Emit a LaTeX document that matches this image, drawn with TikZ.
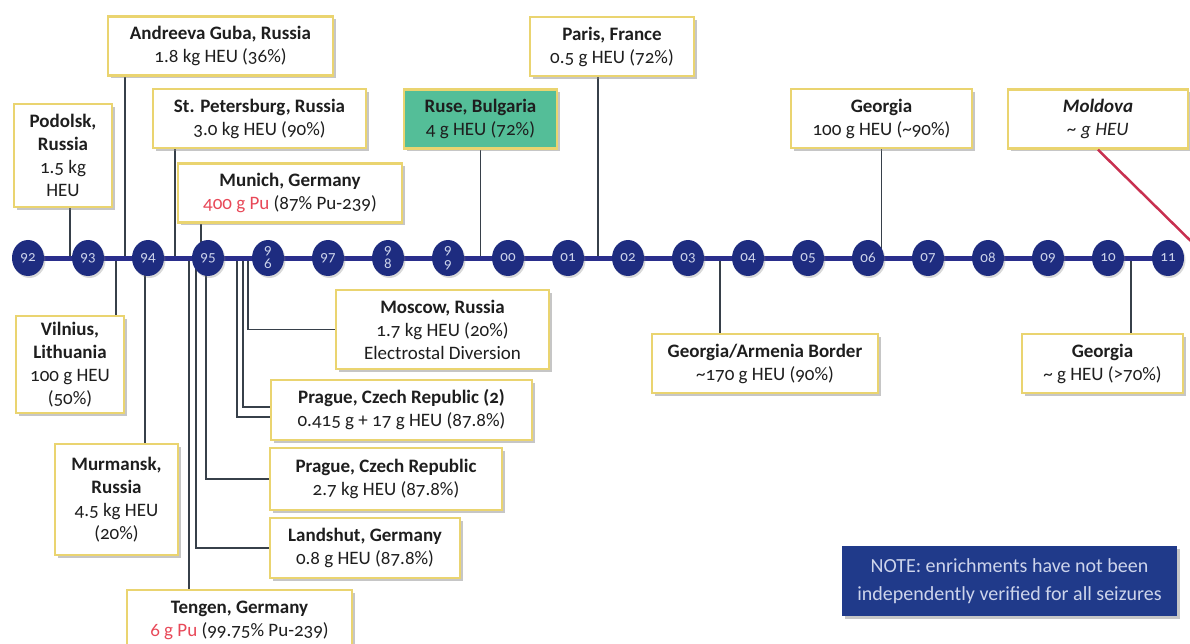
\documentclass[tikz,border=0pt]{standalone}
\usepackage{fontspec}
\setmainfont{Carlito}[Numbers=OldStyle]
\usetikzlibrary{shapes.geometric,shadows,backgrounds}
\definecolor{boxgold}{RGB}{234,212,112}
\definecolor{yearblue}{RGB}{30,44,128}
\definecolor{linenavy}{RGB}{42,46,140}
\definecolor{linkgray}{RGB}{55,64,74}
\definecolor{rusegreen}{RGB}{84,190,152}
\definecolor{pured}{RGB}{232,72,88}
\definecolor{moldred}{RGB}{200,48,80}
\definecolor{notefill}{RGB}{32,58,138}
\definecolor{notetext}{RGB}{205,212,235}
\definecolor{inktext}{RGB}{30,30,30}
\tikzset{
    x=1pt, y=-1pt, % one unit per reference pixel, y running down
    }

\begin{document}
\begin{tikzpicture}[
infobox/.style={draw=boxgold, line width=2.4pt, fill=white, text=inktext, align=center, inner sep=3pt, minimum height=59pt, font=\fontsize{19}{23}\selectfont, drop shadow={shadow xshift=3pt, shadow yshift=-3pt, opacity=0.45}},
notebox/.style={fill=notefill, text=notetext, align=center, minimum width=335pt, minimum height=70pt, font=\fontsize{20}{28}\selectfont, drop shadow={shadow xshift=3pt, shadow yshift=-3pt, opacity=0.45}},
yearnode/.style={ellipse, fill=yearblue, text=notetext, inner sep=0pt, minimum width=32pt, minimum height=36pt, align=center, font=\fontsize{15}{14}\selectfont, drop shadow={shadow xshift=1.5pt, shadow yshift=-2pt, opacity=0.3}},
timeline/.style={draw=linenavy, line width=5pt},
link/.style={draw=linkgray, line width=1.8pt},
moldline/.style={draw=moldred, line width=2.5pt},
]
\useasboundingbox (0,0) rectangle (1190,644);

% years
\foreach \yr/\lbl [count=\i from 0] in {92/92,93/93,94/94,95/95,96/{9\\6},97/97,98/{9\\8},99/{9\\9},00/00,01/01,02/02,03/03,04/04,05/05,06/06,07/07,08/08,09/09,10/10,11/11}
  \node[yearnode] (y\yr) at ({28+60*\i},258) {\lbl};

% seizures above the line
\node[infobox, minimum width=225pt] (andreeva) at (220.5,46) {\textbf{Andreeva Guba, Russia}\\1.8 kg HEU (36\%)};
\node[infobox, minimum width=98pt, minimum height=103pt] (podolsk) at (63,155.5) {\textbf{Podolsk,}\\\textbf{Russia}\\1.5 kg\\HEU};
\node[infobox, minimum width=213pt] (stpete) at (259.5,118.5) {\textbf{St. Petersburg, Russia}\\3.0 kg HEU (90\%)};
\node[infobox, minimum width=224pt] (munich) at (290,193) {\textbf{Munich, Germany}\\\textcolor{pured}{400 g Pu} (87\% Pu-239)};
\node[infobox, fill=rusegreen, minimum width=153pt] (ruse) at (480.5,119) {\textbf{Ruse, Bulgaria}\\4 g HEU (72\%)};
\node[infobox, minimum width=164pt] (paris) at (612,46.5) {\textbf{Paris, France}\\0.5 g HEU (72\%)};
\node[infobox, minimum width=181pt] (georgiaA) at (881.5,118.5) {\textbf{Georgia}\\100 g HEU (\textasciitilde90\%)};
\node[infobox, minimum width=180pt] (moldova) at (1098,119) {\textbf{\textit{Moldova}}\\\textit{\textasciitilde{} g HEU}};

% seizures below the line
\node[infobox, minimum width=108pt, minimum height=97pt] (vilnius) at (70,364.5) {\textbf{Vilnius,}\\\textbf{Lithuania}\\100 g HEU\\(50\%)};
\node[infobox, minimum width=123pt, minimum height=111pt] (murmansk) at (116.5,499.5) {\textbf{Murmansk,}\\\textbf{Russia}\\4.5 kg HEU\\(20\%)};
\node[infobox, minimum width=213pt, minimum height=79pt] (moscow) at (442.5,329.5) {\textbf{Moscow, Russia}\\1.7 kg HEU (20\%)\\Electrostal Diversion};
\node[infobox, minimum width=261pt, minimum height=60pt] (pragueB) at (401.5,410) {\textbf{Prague, Czech Republic (2)}\\0.415 g + 17 g HEU (87.8\%)};
\node[infobox, minimum width=232pt, minimum height=62pt] (pragueA) at (386,479) {\textbf{Prague, Czech Republic}\\2.7 kg HEU (87.8\%)};
\node[infobox, minimum width=190pt, minimum height=60pt] (landshut) at (365,548) {\textbf{Landshut, Germany}\\0.8 g HEU (87.8\%)};
\node[infobox, minimum width=225pt, minimum height=60pt] (tengen) at (239.5,620) {\textbf{Tengen, Germany}\\\textcolor{pured}{6 g Pu} (99.75\% Pu-239)};
\node[infobox, minimum width=226pt] (border) at (765,363.5) {\textbf{Georgia/Armenia Border}\\\textasciitilde170 g HEU (90\%)};
\node[infobox, minimum width=161pt] (georgiaB) at (1102.5,363.5) {\textbf{Georgia}\\\textasciitilde{} g HEU (>70\%)};

\node[notebox] (note) at (1009.5,581) {NOTE: enrichments have not been\\independently verified for all seizures};

\coordinate (moldEnd) at (1205,255);
\draw[moldline] (moldova.south) -- (moldEnd);

\begin{scope}[on background layer]
% straight drops to the line
\foreach \seiz/\dx in {podolsk/7, andreeva/-95.5, stpete/-84.5, munich/-89, ruse/0, paris/-14, georgiaA/0, vilnius/46, murmansk/28.5, tengen/-50.5, border/-45, georgiaB/28.5}
  \draw[link] ([xshift=\dx pt]\seiz.center) -- ([xshift=\dx pt]\seiz.center |- y92.center);
% elbows
\draw[link] ([xshift=-12pt]y95.center) |- (landshut.west);
\draw[link] ([xshift=-2pt]y95.center) |- (pragueA.west);
\draw[link] ([xshift=-31pt]y96.center) |- ([yshift=-7pt]pragueB.west);
\draw[link] ([xshift=-25pt]y96.center) |- ([yshift=3pt]pragueB.west);
\draw[link] ([xshift=-20pt]y96.center) |- (moscow.west);
\draw[timeline] (y92.center) -- (y11.center);
\end{scope}

\end{tikzpicture}
\end{document}
